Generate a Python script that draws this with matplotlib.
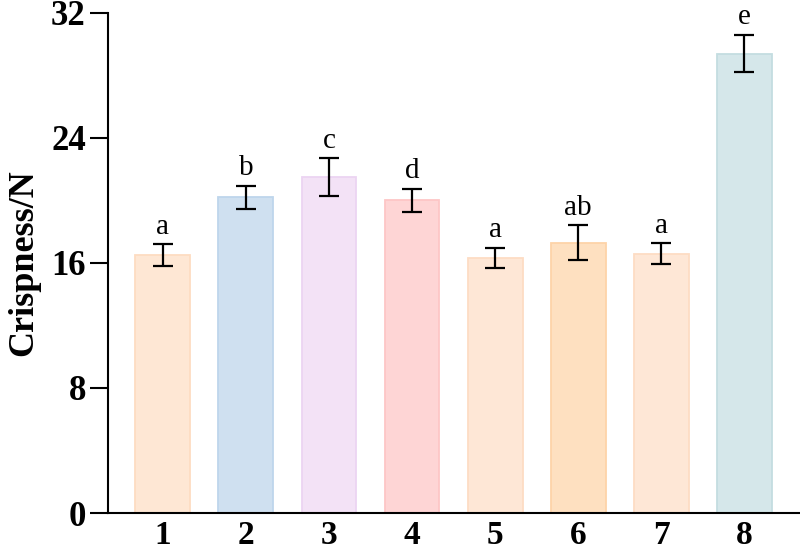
import matplotlib
matplotlib.use('Agg')
import matplotlib.pyplot as plt
import numpy as np

plt.rcParams['font.family'] = ['Liberation Serif', 'DejaVu Serif']

# data
groups = ['1', '2', '3', '4', '5', '6', '7', '8']
means = [16.5, 20.2, 21.5, 20.0, 16.3, 17.3, 16.6, 29.4]
errs = [0.7, 0.75, 1.2, 0.75, 0.65, 1.1, 0.65, 1.2]
letters = ['a', 'b', 'c', 'd', 'a', 'ab', 'a', 'e']
fills = ['#fee7d4', '#cfe0f0', '#f3e2f6', '#fed5d5', '#fee7d6', '#fee0c0', '#fee7d6', '#d5e7ea']
edges = ['#fddcc2', '#bed6ec', '#ecd4f2', '#fdc6c6', '#fddcc4', '#fdd3a8', '#fddcc4', '#c4dde1']

fig = plt.figure(figsize=(8, 5.54), dpi=100)
ax = fig.add_axes([0.135, 0.074, 0.865, 0.9026])

x = np.arange(1, len(groups) + 1)
ax.bar(x, means, width=0.66, color=fills, edgecolor=edges, linewidth=1.3, zorder=2)
ax.errorbar(x, means, yerr=errs, fmt='none', ecolor='black', elinewidth=1.6,
            capsize=7, capthick=1.6, zorder=3)

for xi, m, e, t in zip(x, means, errs, letters):
    ax.text(xi, m + e + 0.3, t, ha='center', va='bottom', fontsize=21)

ax.set_xlim(0.34, 8.67)
ax.set_ylim(0, 32)
ax.set_yticks([0, 8, 16, 24, 32])
ax.set_xticks(x)
ax.set_xticklabels(groups)
ax.tick_params(axis='y', length=13, width=1.5, labelsize=25, pad=3)
ax.tick_params(axis='x', length=0, labelsize=24, pad=5)
for lab in ax.get_xticklabels() + ax.get_yticklabels():
    lab.set_fontweight('bold')

ax.spines['top'].set_visible(False)
ax.spines['right'].set_visible(False)
ax.spines['left'].set_linewidth(1.5)
ax.spines['bottom'].set_linewidth(1.5)

ax.set_ylabel('Crispness/N', fontsize=26, fontweight='bold', labelpad=8)

fig.savefig('out.png', dpi=100)
